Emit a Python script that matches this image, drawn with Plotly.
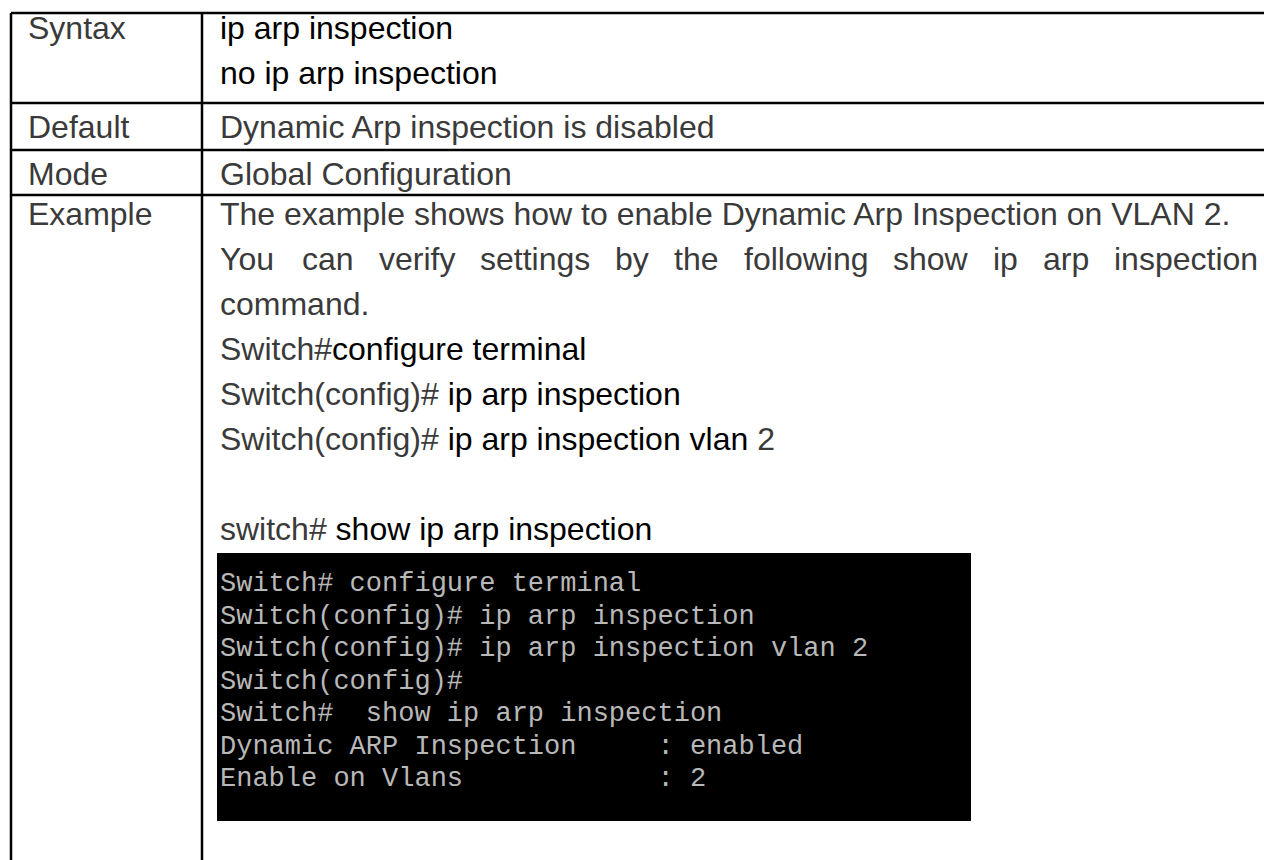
import plotly.graph_objects as go

# ---------------- data (texts of the table) ----------------
row_labels = ["Syntax", "Default", "Mode", "Example"]
syntax_cmds = ["ip arp inspection", "no ip arp inspection"]
default_text = "Dynamic Arp inspection is disabled"
mode_text = "Global Configuration"
example_intro = "The example shows how to enable Dynamic Arp Inspection on VLAN 2."
example_justified = "You can verify settings by the following show ip arp inspection"
example_tail = "command."
cli_prompts = ["Switch#", "Switch(config)# ", "Switch(config)# ", "", "switch# "]
cli_commands = ["configure terminal", "ip arp inspection", "ip arp inspection vlan", "", "show ip arp inspection"]
cli_suffix = ["", "", " 2", "", ""]
terminal_lines = [
    "Switch# configure terminal",
    "Switch(config)# ip arp inspection",
    "Switch(config)# ip arp inspection vlan 2",
    "Switch(config)#",
    "Switch#  show ip arp inspection",
    "Dynamic ARP Inspection     : enabled",
    "Enable on Vlans            : 2",
]

# ---------------- layout constants ----------------
W, H = 1264, 860
FONT = "Liberation Sans, Arial, Helvetica, sans-serif"
MONO = "Liberation Mono, Courier New, monospace"
FS = 32
MFS = 27
GRAY = "#3a3a3a"
BLACK = "#000000"
TERM_COLOR = "#b8b8b8"
LINE_W = 2.5
row_tops = [13, 103, 150, 195]
col_x = [11, 202]
text_x0, text_x1 = 26, 218
right_edge = 1256
line_step = 45
box = dict(x0=217, x1=971, y0=553, y1=821)
term_first, term_step = 584, 32.5

# Arial / Liberation Sans advance widths (per em) for text justification
AW = {' ': .278, 'a': .556, 'b': .556, 'c': .5, 'd': .556, 'e': .556, 'f': .278, 'g': .556,
      'h': .556, 'i': .222, 'j': .222, 'k': .5, 'l': .222, 'm': .833, 'n': .556, 'o': .556,
      'p': .556, 'q': .556, 'r': .333, 's': .5, 't': .278, 'u': .556, 'v': .5, 'w': .722,
      'x': .5, 'y': .5, 'z': .5, 'Y': .667}


def tw(s, size):
    return sum(AW.get(ch, .556) for ch in s) * size


def base_to_mid(baseline, size):
    return baseline - 0.35 * size


fig = go.Figure()
fig.add_trace(go.Scatter(x=[0, W], y=[0, H], mode="markers", marker=dict(opacity=0),
                         hoverinfo="skip", showlegend=False))

shapes = []
# horizontal rules
for y in row_tops:
    shapes.append(dict(type="line", x0=col_x[0], x1=W + 5, y0=y, y1=y,
                       line=dict(color="black", width=LINE_W)))
# vertical rules
for x in col_x:
    shapes.append(dict(type="line", x0=x, x1=x, y0=row_tops[0], y1=H + 5,
                       line=dict(color="black", width=LINE_W)))
# terminal screenshot box
shapes.append(dict(type="rect", x0=box["x0"], x1=box["x1"], y0=box["y0"], y1=box["y1"],
                   fillcolor="black", line=dict(width=0), layer="below"))

ann = []


def add_text(x, baseline, text, color=GRAY, size=FS, family=FONT):
    ann.append(dict(x=x, y=base_to_mid(baseline, size), text=text, showarrow=False,
                    xanchor="left", yanchor="middle", xref="x", yref="y",
                    font=dict(family=family, size=size, color=color)))


def cmd(s):
    return '<span style="color:%s">%s</span>' % (BLACK, s)


row_base = [39, 138, 185, 225]
# first column labels
for lab, b in zip(row_labels, row_base):
    add_text(text_x0, b, lab)

# Syntax
for i, s in enumerate(syntax_cmds):
    add_text(text_x1, row_base[0] + i * line_step, cmd(s), color=BLACK)
# Default / Mode
add_text(text_x1, row_base[1], default_text)
add_text(text_x1, row_base[2], mode_text)

# Example
b0 = row_base[3]
add_text(text_x1, b0, example_intro)
# justified line
words = example_justified.split(" ")
widths = [tw(w_, FS) for w_ in words]
gap = (right_edge - text_x1 - sum(widths)) / (len(words) - 1)
xx = text_x1
for w_, wd in zip(words, widths):
    add_text(xx, b0 + line_step, w_)
    xx += wd + gap
add_text(text_x1, b0 + 2 * line_step, example_tail)
for i, (p, c, s) in enumerate(zip(cli_prompts, cli_commands, cli_suffix)):
    txt = p + (cmd(c) if c else "") + s
    if not txt:
        continue
    add_text(text_x1, b0 + (3 + i) * line_step, txt)

# terminal text
for i, t in enumerate(terminal_lines):
    ann.append(dict(x=box["x0"] + 1, y=term_first + i * term_step, text=t.replace(" ", "\u00a0"),
                    showarrow=False, xanchor="left", yanchor="middle", xref="x", yref="y",
                    font=dict(family=MONO, size=MFS, color=TERM_COLOR)))

fig.update_layout(
    width=W, height=H, margin=dict(l=0, r=0, t=0, b=0),
    paper_bgcolor="white", plot_bgcolor="white",
    xaxis=dict(range=[0, W], visible=False, fixedrange=True),
    yaxis=dict(range=[H, 0], visible=False, fixedrange=True),
    shapes=shapes, annotations=ann, showlegend=False,
)

fig.write_html("out.html", config=dict(displayModeBar=False, staticPlot=True),
               post_script="document.body.style.margin='0px';")
